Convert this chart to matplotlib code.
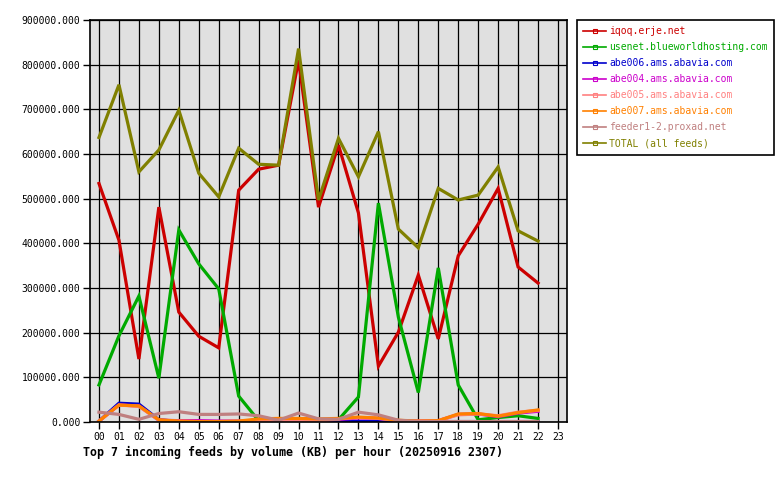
import matplotlib
matplotlib.use("Agg")
import matplotlib.pyplot as plt
from matplotlib.ticker import FuncFormatter
from matplotlib.lines import Line2D

hours = list(range(23))
hour_labels = [f"{h:02d}" for h in range(24)]

iqoq = [534000, 407000, 141000, 481000, 246000, 192000, 166000, 519000, 566000, 575000,
        810000, 481000, 620000, 468000, 125000, 201000, 329000, 186000, 372000, 443000,
        523000, 347000, 311000]
usenet = [83000, 193000, 282000, 98000, 430000, 354000, 298000, 58000, 3000, 1000,
          1000, 1000, 5000, 56000, 490000, 235000, 66000, 345000, 83000, 5000,
          10000, 14000, 8000]
abe006 = [2000, 42000, 40000, 5000, 1000, 1000, 1000, 1000, 1000, 1000,
          1000, 1000, 1000, 1000, 1000, 1000, 1000, 1000, 1000, 1000,
          1000, 1000, 1000]
abe004 = [2000, 38000, 36000, 4000, 3000, 3000, 2000, 2000, 2000, 2000,
          3000, 2000, 6000, 9000, 8000, 3000, 2000, 3000, 17000, 18000,
          12000, 20000, 24000]
abe005 = [2000, 38000, 35000, 4000, 2000, 1000, 1000, 2000, 2000, 2000,
          2000, 2000, 7000, 10000, 8000, 3000, 2000, 3000, 16000, 18000,
          14000, 22000, 26000]
abe007 = [2000, 38000, 36000, 5000, 2000, 1000, 1000, 2000, 7000, 8000,
          8000, 7000, 8000, 11000, 9000, 4000, 2000, 3000, 18000, 19000,
          13000, 21000, 27000]
feeder = [22000, 17000, 6000, 19000, 23000, 17000, 17000, 18000, 14000, 4000,
          20000, 7000, 6000, 22000, 16000, 4000, 1000, 1000, 1000, 1000,
          1000, 1000, 1000]
total = [637000, 755000, 560000, 609000, 698000, 557000, 504000, 613000, 577000, 575000,
         836000, 497000, 635000, 549000, 650000, 432000, 390000, 523000, 497000, 508000,
         571000, 428000, 405000]

labels = ["iqoq.erje.net", "usenet.blueworldhosting.com", "abe006.ams.abavia.com",
          "abe004.ams.abavia.com", "abe005.ams.abavia.com", "abe007.ams.abavia.com",
          "feeder1-2.proxad.net", "TOTAL (all feeds)"]
colors = ["#cc0000", "#00aa00", "#0000cc", "#cc00cc", "#ff8080", "#ff8000", "#c08080", "#808000"]
series = [iqoq, usenet, abe006, abe004, abe005, abe007, feeder, total]

mono = "DejaVu Sans Mono"
fs = 7.0
fig = plt.figure(figsize=(7.8, 4.8), dpi=100)
ax = fig.add_axes([90/780, 1-422/480, (567-90)/780, (422-20)/480])
ax.set_facecolor("#e0e0e0")

for s, c, lab in zip(series, colors, labels):
    ax.plot(hours, s, color=c, lw=2.3, label=lab, solid_joinstyle="miter")

ax.set_xlim(-0.45, 23.45)
ax.set_ylim(0, 900000)
ax.set_xticks(range(24))
ax.set_xticklabels(hour_labels, fontfamily=mono, fontsize=fs)
ax.set_yticks(range(0, 900001, 100000))
ax.yaxis.set_major_formatter(FuncFormatter(lambda v, p: f"{v:.3f}"))
for t in ax.get_yticklabels():
    t.set_fontfamily(mono)
    t.set_fontsize(fs)
ax.tick_params(direction="out", length=5, width=1, colors="black", pad=2)
ax.grid(True, color="black", lw=0.9)
ax.set_axisbelow(True)
for sp in ax.spines.values():
    sp.set_color("black")
    sp.set_linewidth(1.2)

fig.text(83/780, 1-452/480, "Top 7 incoming feeds by volume (KB) per hour (20250916 2307)",
         fontfamily=mono, fontweight="bold", fontsize=8.4, ha="left", va="center")

handles = [Line2D([0], [0], color=c, lw=1.2, marker="s", markersize=3,
                  markerfacecolor="none", markeredgewidth=0.8) for c in colors]
leg = fig.legend(handles, labels, loc="upper left", bbox_to_anchor=(577/780, 1-20/480),
                 prop={"family": mono, "size": fs}, labelcolor=colors,
                 frameon=True, fancybox=False, edgecolor="black", framealpha=1,
                 handlelength=2.3, handletextpad=0.35, borderpad=0.65, labelspacing=0.62,
                 borderaxespad=0)
leg.get_frame().set_linewidth(1.2)

fig.savefig("out.png", dpi=100)
